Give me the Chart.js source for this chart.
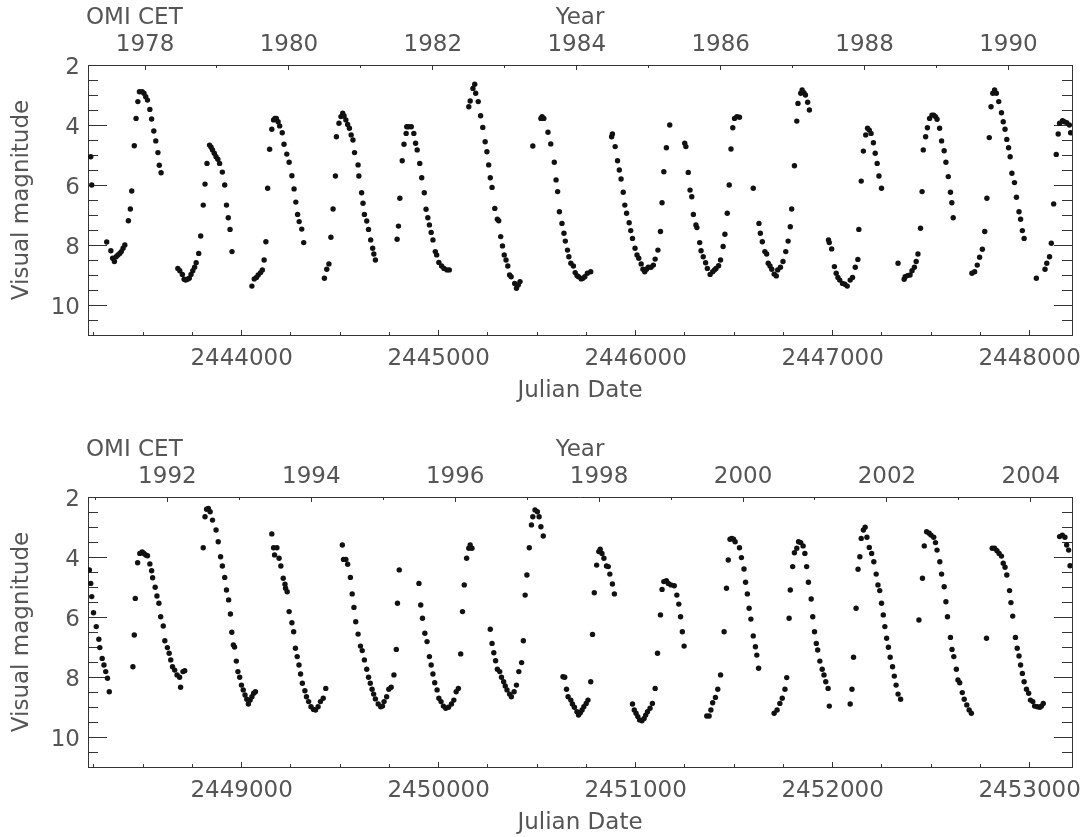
<!DOCTYPE html>
<html><head><meta charset="utf-8">
<script src="https://cdn.jsdelivr.net/npm/chart.js@4/dist/chart.umd.min.js"></script>
<style>
html,body{margin:0;padding:0;background:#fff;}
#wrap{position:relative;width:1086px;height:837px;overflow:hidden;background:#fff;}
.panel{position:absolute;left:0;width:1086px;height:405px;}
</style></head><body>
<div id="wrap">
<div class="panel" style="top:0"><canvas id="c1" width="1086" height="405"></canvas></div>
<div class="panel" style="top:432px"><canvas id="c2" width="1086" height="405"></canvas></div>
</div>
<script>
const starName = 'OMI CET';
const xTitle = 'Julian Date';
const yTitle = 'Visual magnitude';
const yearTitle = 'Year';

const topRange = [2443220, 2448215];
const bottomRange = [2448220, 2453215];
const magRange = [2, 11];

const topJdTicks = [2444000, 2445000, 2446000, 2447000, 2448000];
const bottomJdTicks = [2449000, 2450000, 2451000, 2452000, 2453000];
const topYearTicks = [1978, 1980, 1982, 1984, 1986, 1988, 1990];
const bottomYearTicks = [1992, 1994, 1996, 1998, 2000, 2002, 2004];
const magTicks = [2, 4, 6, 8, 10];

const topJD = [
2443234,2443239,2443315,2443336,2443345,2443354,2443363,2443372,2443381,2443389,2443398,2443407,2443425,2443435,2443442,
2443455,2443464,2443473,2443481,2443495,2443504,2443513,2443522,2443534,2443543,2443554,2443564,2443575,2443582,2443591,
2443676,2443686,2443699,2443708,2443716,2443725,2443734,2443743,2443752,2443761,2443769,2443782,2443792,2443805,2443814,
2443824,2443837,2443845,2443852,2443861,2443870,2443879,2443888,2443902,2443914,2443923,2443932,2443941,2443951,
2444052,2444064,2444075,2444084,2444096,2444105,2444114,2444123,2444132,2444142,2444153,2444162,2444169,2444176,2444185,2444193,2444206,2444215,2444229,2444241,2444255,2444266,2444275,2444284,2444292,2444305,2444315,
2444420,2444432,2444443,2444453,2444464,2444476,2444481,2444494,2444504,2444513,2444520,2444529,2444538,2444547,2444556,2444565,2444573,2444591,2444595,2444609,2444616,2444623,2444635,2444644,2444655,2444665,2444671,2444679,
2444789,2444796,2444803,2444815,2444824,2444835,2444838,2444847,2444861,2444874,2444883,2444891,2444904,2444914,2444927,2444936,2444945,2444953,2444962,2444971,2444983,2444990,2445001,2445015,2445027,2445042,2445054,
2445153,2445160,2445174,2445183,2445188,2445201,2445213,2445224,2445236,2445245,2445254,2445262,2445271,2445285,2445298,2445305,2445315,2445324,2445333,2445342,2445351,2445360,2445368,2445386,2445395,2445404,2445413,
2445478,2445519,2445525,2445534,2445555,2445569,2445587,2445596,2445604,2445613,2445626,2445636,2445643,2445654,2445661,2445671,2445684,2445693,2445702,2445710,2445724,2445732,2445742,2445755,2445772,
2445878,2445882,2445896,2445908,2445917,2445926,2445937,2445945,2445954,2445967,2445975,2445984,2445997,2446007,2446016,2446028,2446037,2446046,2446055,2446064,2446078,2446090,2446099,2446113,2446126,2446134,
2446143,2446156,2446173,2446249,2446255,2446267,2446276,2446285,2446293,2446306,2446311,2446325,2446332,2446343,2446355,2446364,2446378,2446391,2446400,2446408,2446421,2446431,2446444,2446453,2446465,2446475,
2446484,2446493,2446502,2446514,2446527,2446597,2446626,2446633,2446643,2446656,2446665,2446673,2446682,2446691,2446703,2446714,2446721,2446735,2446748,2446762,2446774,2446785,2446792,
2446806,2446818,2446824,2446838,2446845,2446854,2446862,2446873,2446882,
2446979,2446983,2446995,2447009,2447018,2447027,2447036,2447050,2447062,2447074,2447089,2447101,2447115,2447128,2447133,2447145,
2447156,2447168,2447177,2447186,2447195,2447207,2447216,2447226,2447235,2447248,
2447332,2447363,2447368,2447380,2447393,2447403,2447415,2447424,2447433,2447446,2447454,2447460,2447472,2447481,2447492,2447504,2447513,2447522,2447530,2447543,2447553,2447566,2447575,2447587,2447598,2447605,2447612,
2447707,2447721,2447734,2447746,2447760,2447772,2447783,2447795,2447804,2447813,2447822,2447831,2447843,2447857,2447866,2447875,2447884,2447893,2447901,2447910,2447923,2447933,2447946,2447954,2447963,2447972,
2448034,2448078,2448087,2448101,2448110,2448122,2448135,2448145,2448152,2448167,2448175,2448188,2448202,2448208
];
const topMag = [
5.06,6.0,7.9,8.19,8.44,8.55,8.39,8.33,8.28,8.22,8.11,8.0,7.19,6.8,6.2,
4.69,3.78,3.22,2.89,2.89,2.94,3.06,3.17,3.48,3.8,4.2,4.53,4.92,5.34,5.59,
8.78,8.86,8.98,9.14,9.17,9.14,9.11,8.98,8.86,8.74,8.59,8.28,7.7,6.67,5.97,
5.28,4.67,4.74,4.83,4.94,5.06,5.14,5.28,5.57,6.0,6.67,7.09,7.48,8.22,
9.37,9.13,9.08,9.0,8.92,8.83,8.5,7.89,6.11,4.81,4.14,3.83,3.78,3.78,3.89,4.03,4.26,4.64,4.97,5.24,5.69,6.13,6.57,6.98,7.22,7.47,7.92,
9.11,8.81,8.63,7.74,6.8,5.7,4.39,3.94,3.72,3.61,3.7,3.83,3.98,4.11,4.33,4.5,4.92,5.33,5.7,6.26,6.61,6.98,7.2,7.48,7.83,8.11,8.3,8.5,
7.81,7.37,6.44,5.19,4.64,4.28,4.06,4.06,4.06,4.28,4.61,4.83,5.28,5.76,6.26,6.81,7.09,7.33,7.58,7.83,8.22,8.33,8.58,8.7,8.78,8.83,8.83,
3.39,3.2,2.78,2.64,2.94,3.22,3.69,4.08,4.56,4.89,5.33,5.76,6.08,6.78,7.14,7.19,7.72,8.03,8.33,8.5,8.7,9.0,9.06,9.28,9.44,9.33,9.22,
4.7,3.78,3.72,3.78,4.24,4.63,5.24,5.83,6.22,6.89,7.28,7.61,7.87,8.17,8.39,8.61,8.7,8.92,9.02,9.06,9.13,9.11,9.06,8.94,8.89,
4.39,4.3,4.72,5.19,5.5,5.8,6.24,6.67,6.94,7.26,7.52,7.78,8.11,8.33,8.44,8.63,8.81,8.89,8.81,8.74,8.74,8.67,8.47,8.17,7.55,6.59,
5.56,4.76,4.0,4.61,4.72,5.58,6.17,6.39,6.98,7.33,7.42,7.92,8.19,8.39,8.59,8.78,8.98,8.89,8.83,8.78,8.69,8.5,8.05,7.64,6.94,6.0,
4.8,4.09,3.78,3.72,3.74,6.11,7.28,7.61,7.89,8.22,8.3,8.61,8.7,8.81,8.97,9.03,8.83,8.74,8.55,8.22,7.87,7.39,6.8,
5.36,3.87,3.28,2.94,2.83,2.92,3.0,3.24,3.5,
7.83,7.92,8.13,8.72,8.94,9.08,9.17,9.28,9.31,9.37,9.17,9.08,8.74,8.48,7.48,5.87,
4.87,4.33,4.11,4.17,4.28,4.59,4.94,5.28,5.7,6.11,
8.61,9.14,9.06,9.02,9.0,8.86,8.74,8.55,8.3,7.44,6.22,4.83,4.39,4.09,3.78,3.67,3.67,3.72,3.81,4.11,4.53,4.86,5.24,5.72,6.24,6.59,7.09,
8.94,8.89,8.67,8.41,8.14,7.55,6.44,4.42,3.39,2.94,2.83,2.94,3.22,3.59,3.89,4.14,4.48,4.76,5.06,5.61,5.92,6.41,6.89,7.14,7.52,7.78,
9.11,8.81,8.61,8.39,7.94,6.63,4.98,4.3,3.94,3.86,3.89,3.92,4.0,4.26
];

const bottomJD = [
2448227,2448234,2448239,2448248,2448262,2448275,2448280,2448292,2448301,2448310,2448319,2448328,
2448448,2448455,2448460,2448472,2448483,2448495,2448504,2448513,2448522,2448534,2448543,2448548,2448561,2448570,2448580,2448589,2448602,2448610,2448623,2448632,2448640,2448649,2448660,2448672,2448685,2448690,2448702,2448711,
2448805,2448814,2448822,2448831,2448840,2448852,2448870,2448881,2448893,2448902,2448914,2448923,2448934,2448943,2448950,2448958,2448964,2448973,2448981,2448990,2448999,2449008,2449017,2449026,2449034,2449043,2449052,2449061,2449070,
2449153,2449162,2449167,2449179,2449190,2449199,2449211,2449220,2449223,2449231,2449241,2449255,2449264,2449273,2449282,2449291,2449299,2449308,2449321,2449329,2449340,2449352,2449365,2449375,2449388,2449400,2449414,2449427,
2449511,2449517,2449529,2449538,2449552,2449561,2449570,2449579,2449591,2449603,2449612,2449623,2449635,2449644,2449653,2449662,2449670,2449679,2449693,2449706,2449715,2449723,2449736,2449747,2449759,2449773,2449785,2449791,2449800,
2449900,2449909,2449918,2449930,2449941,2449953,2449962,2449971,2449980,2449992,2450001,2450012,2450024,2450036,2450050,2450065,2450077,2450089,2450100,2450112,2450121,
2450130,2450142,2450153,2450160,2450169,2450262,2450271,2450280,2450289,2450298,2450310,2450319,2450330,2450338,2450347,2450360,2450369,2450383,2450395,2450407,2450421,2450430,
2450439,2450448,2450460,2450471,2450478,2450489,2450501,2450510,2450519,2450531,
2450631,2450640,2450649,2450657,2450671,2450679,2450689,2450702,2450710,2450719,2450728,2450737,2450749,2450758,2450772,2450781,2450790,2450802,2450813,2450820,2450829,2450839,2450852,2450861,2450869,2450882,2450892,
2450984,2450993,2451002,2451011,2451020,2451032,2451043,2451051,2451060,2451073,2451085,2451099,2451111,2451126,2451134,2451143,2451156,2451166,2451179,2451196,2451209,2451219,2451228,2451237,2451246,
2451361,2451373,2451382,2451391,2451405,2451417,2451431,2451449,2451461,2451470,2451479,2451488,2451497,2451505,2451527,2451537,2451550,2451558,2451567,2451576,2451585,2451597,2451608,2451615,2451624,
2451703,2451718,2451732,2451744,2451758,2451767,2451779,2451785,2451797,2451806,2451818,2451827,2451838,2451850,2451859,2451868,2451877,2451891,2451899,2451908,2451917,2451924,2451935,2451947,2451956,2451965,2451977,2451983,
2452089,2452098,2452106,2452119,2452129,2452138,2452145,2452156,2452165,2452174,2452186,2452198,2452209,2452221,2452230,2452239,2452248,2452257,2452265,2452274,2452283,2452292,2452304,2452313,2452322,2452332,2452345,
2452438,2452456,2452465,2452477,2452490,2452499,2452513,2452522,2452530,2452544,2452553,2452566,2452575,2452583,2452598,2452606,2452615,2452628,2452636,2452645,2452658,2452668,2452681,2452693,2452704,
2452781,2452810,2452822,2452834,2452845,2452857,2452866,2452875,2452884,2452898,2452905,2452914,2452928,2452937,2452946,2452954,2452963,2452972,2452984,2452995,2453004,2453016,2453025,2453039,2453052,2453060,2453069,
2453152,2453166,2453179,2453188,2453198,2453205
];
const bottomMag = [
4.43,4.88,5.32,5.86,6.32,6.74,7.02,7.38,7.6,7.82,8.04,8.49,
7.66,6.6,5.38,4.19,3.88,3.83,3.88,3.93,3.96,4.23,4.46,4.69,5.01,5.3,5.54,5.99,6.3,6.79,7.02,7.21,7.43,7.66,7.77,7.93,8.01,8.34,7.82,7.79,
3.69,2.66,2.41,2.38,2.49,2.77,3.1,3.49,3.99,4.3,4.68,5.1,5.43,5.9,6.51,6.93,7.0,7.47,7.82,8.01,8.27,8.43,8.6,8.74,8.9,8.77,8.66,8.54,8.49,
3.23,3.69,3.93,3.69,4.04,4.3,4.71,4.91,5.04,5.16,5.82,6.19,6.49,7.04,7.32,7.6,7.9,8.21,8.46,8.66,8.82,8.99,9.08,9.1,8.99,8.82,8.71,8.38,
3.6,4.08,4.08,4.24,4.68,5.23,5.68,6.16,6.57,6.97,7.12,7.43,7.74,8.01,8.21,8.41,8.57,8.73,8.9,8.99,8.97,8.82,8.66,8.41,8.34,7.93,7.08,5.54,4.43,
4.88,5.6,6.04,6.54,6.82,7.32,7.6,7.9,8.19,8.43,8.71,8.82,8.97,9.04,9.01,8.9,8.77,8.49,8.38,7.23,5.82,
4.93,4.04,3.71,3.6,3.71,6.41,6.88,7.19,7.46,7.74,7.82,8.01,8.16,8.3,8.43,8.57,8.66,8.49,8.27,7.82,7.52,6.79,
5.27,4.6,3.69,2.93,2.66,2.43,2.49,2.66,2.99,3.3,
7.99,8.01,8.41,8.66,8.77,8.9,9.01,9.16,9.27,9.19,9.1,8.99,8.88,8.77,8.16,6.58,5.19,4.27,3.82,3.74,3.88,4.04,4.3,4.32,4.57,4.9,5.23,
8.9,9.1,9.21,9.32,9.43,9.46,9.38,9.27,9.16,9.04,8.88,8.38,7.21,5.93,5.08,4.82,4.79,4.88,4.93,4.96,5.27,5.57,5.99,6.49,6.97,
9.3,9.3,9.1,8.86,8.68,8.41,7.93,6.49,5.04,4.1,3.41,3.38,3.41,3.49,3.69,4.02,4.4,4.84,5.23,5.71,6.07,6.63,6.99,7.27,7.71,
9.21,9.1,8.88,8.71,8.41,8.02,6.04,5.1,4.32,3.86,3.71,3.49,3.52,3.63,3.88,4.32,4.84,5.4,5.99,6.49,6.88,7.1,7.47,7.74,7.93,8.16,8.38,8.97,
8.9,8.41,7.34,5.71,4.41,3.99,3.38,3.1,3.01,3.34,3.68,3.88,4.16,4.57,4.93,5.12,5.54,5.93,6.32,6.71,7.01,7.34,7.66,7.97,8.27,8.57,8.74,
6.1,4.71,3.63,3.16,3.21,3.27,3.34,3.52,3.77,4.16,4.57,4.99,5.49,5.99,6.68,7.08,7.32,7.74,8.1,8.19,8.52,8.74,8.93,9.1,9.21,
6.71,3.71,3.71,3.79,3.88,3.97,4.21,4.34,4.6,5.12,5.52,5.97,6.68,7.04,7.3,7.6,7.88,8.16,8.41,8.54,8.77,8.82,8.97,8.99,9.01,8.97,8.88,
3.32,3.27,3.34,3.6,3.77,4.29
];

const FONT = {family: "'DejaVu Sans', sans-serif", size: 23};
const TXT = '#555';
const AX = '#333';

function jdToYear(jd) { return 1978 + (jd - 2443509.5) / 365.25; }
function steps(min, max, step) {
  const out = [];
  for (let v = Math.ceil(min / step - 1e-9) * step; v <= max + 1e-9; v += step) out.push({value: +v.toFixed(4)});
  return out;
}
function grid(len) {
  return {display: true, drawOnChartArea: false, drawTicks: true, tickLength: -len, color: AX, tickColor: AX, lineWidth: 1};
}
const border = {display: true, color: AX, width: 1};
function fixSize(prop, size) {
  return s => { s[prop] = size; s.paddingLeft = 0; s.paddingRight = 0; s.paddingTop = 0; s.paddingBottom = 0; };
}

const starLabel = {
  id: 'starLabel',
  afterDraw(chart) {
    const ctx = chart.ctx;
    const s = chart.scales.yr;
    ctx.save();
    ctx.font = "23px 'DejaVu Sans', sans-serif";
    ctx.fillStyle = TXT;
    ctx.textAlign = 'left';
    ctx.textBaseline = 'middle';
    ctx.fillText(starName, chart.chartArea.left - 2, s.top + 18);
    ctx.restore();
  }
};

function makeChart(id, range, jd, mag, jdTicks, yearTicks) {
  const yMin = jdToYear(range[0]), yMax = jdToYear(range[1]);
  const points = jd.map((x, i) => ({x: x, y: mag[i]}));
  return new Chart(document.getElementById(id), {
    type: 'scatter',
    data: {datasets: [{data: points, pointRadius: 2.7, pointHoverRadius: 2.7, backgroundColor: '#111', borderWidth: 0, pointBorderWidth: 0}]},
    plugins: [starLabel],
    options: {
      responsive: false, animation: false, events: [],
      layout: {padding: 0},
      plugins: {legend: {display: false}, tooltip: {enabled: false}},
      scales: {
        x: {type: 'linear', position: 'bottom', weight: 1, min: range[0], max: range[1], bounds: 'data',
            afterBuildTicks: s => { s.ticks = jdTicks.map(v => ({value: v})); },
            ticks: {autoSkip: false, maxRotation: 0, padding: 15, font: FONT, color: TXT, callback: v => String(v)},
            grid: grid(5), border: border,
            title: {display: true, text: xTitle, font: FONT, color: TXT, padding: {top: 0, bottom: 0}},
            afterFit: fixSize('height', 70)},
        xMinor: {type: 'linear', position: 'bottom', weight: 0, min: range[0], max: range[1], bounds: 'data',
            afterBuildTicks: s => { s.ticks = steps(range[0], range[1], 250); },
            ticks: {display: false}, grid: grid(3), border: {display: false},
            afterFit: fixSize('height', 0)},
        yr: {type: 'linear', position: 'top', weight: 1, min: yMin, max: yMax, bounds: 'data',
            afterBuildTicks: s => { s.ticks = yearTicks.map(v => ({value: v})); },
            ticks: {autoSkip: false, maxRotation: 0, padding: 10.7, font: FONT, color: TXT, callback: v => String(v)},
            grid: grid(5), border: border,
            title: {display: true, text: yearTitle, font: FONT, color: TXT, padding: {top: 4.2, bottom: 0}},
            afterFit: fixSize('height', 65)},
        yrMinor: {type: 'linear', position: 'top', weight: 0, min: yMin, max: yMax, bounds: 'data',
            afterBuildTicks: s => { s.ticks = steps(yMin, yMax, 1); },
            ticks: {display: false}, grid: grid(3), border: {display: false},
            afterFit: fixSize('height', 0)},
        y: {type: 'linear', position: 'left', weight: 1, reverse: true, min: magRange[0], max: magRange[1], bounds: 'data',
            afterBuildTicks: s => { s.ticks = magTicks.map(v => ({value: v})); },
            ticks: {autoSkip: false, padding: 27, labelOffset: 3, font: FONT, color: TXT, callback: v => String(v)},
            grid: grid(19), border: border,
            title: {display: true, text: yTitle, font: FONT, color: TXT, padding: {top: 8.2, bottom: 0}},
            afterFit: fixSize('width', 88)},
        yMinor: {type: 'linear', position: 'left', weight: 0, reverse: true, min: magRange[0], max: magRange[1], bounds: 'data',
            afterBuildTicks: s => { s.ticks = steps(magRange[0], magRange[1], 0.5); },
            ticks: {display: false}, grid: grid(10), border: {display: false},
            afterFit: fixSize('width', 0)},
        yR: {type: 'linear', position: 'right', weight: 1, reverse: true, min: magRange[0], max: magRange[1], bounds: 'data',
            afterBuildTicks: s => { s.ticks = magTicks.map(v => ({value: v})); },
            ticks: {display: false}, grid: grid(18), border: border,
            afterFit: fixSize('width', 14)},
        yRMinor: {type: 'linear', position: 'right', weight: 0, reverse: true, min: magRange[0], max: magRange[1], bounds: 'data',
            afterBuildTicks: s => { s.ticks = steps(magRange[0], magRange[1], 0.5); },
            ticks: {display: false}, grid: grid(10), border: {display: false},
            afterFit: fixSize('width', 0)}
      }
    }
  });
}

makeChart('c1', topRange, topJD, topMag, topJdTicks, topYearTicks);
makeChart('c2', bottomRange, bottomJD, bottomMag, bottomJdTicks, bottomYearTicks);
</script>
</body></html>
